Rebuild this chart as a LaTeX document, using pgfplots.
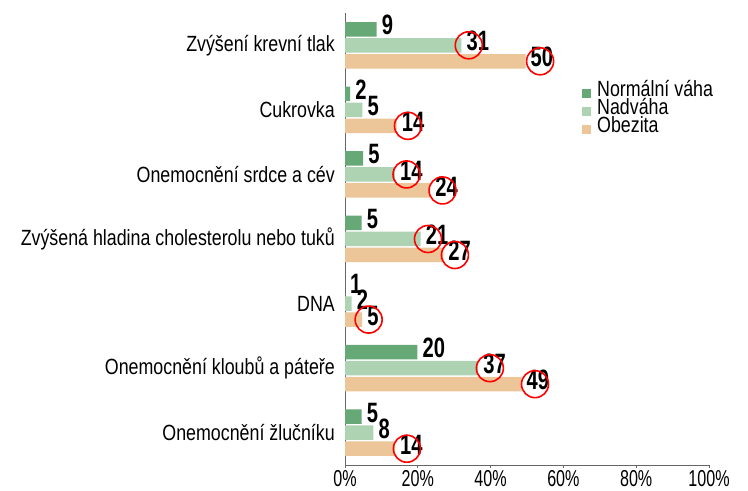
\documentclass[border=0pt]{standalone}
\usepackage{fontspec}
\setmainfont{Liberation Sans}
\newfontfamily\labf{Liberation Sans}[FakeStretch=0.81]
\newfontfamily\tickf{Liberation Sans}[FakeStretch=0.7]
\newfontfamily\numf{Liberation Sans}[FakeStretch=0.72]
\usepackage{pgfplots}
\usepackage{pgfplotstable}
\pgfplotsset{compat=1.18}

\definecolor{normal}{RGB}{102,168,118}
\definecolor{nadvaha}{RGB}{174,211,178}
\definecolor{obezita}{RGB}{236,197,152}

% percentage (bar length) and count (label)
\pgfplotstableread{
y   x     lbl
6   8.7   9
5   1.4   2
4   5.0   5
3   4.6   5
2   0.0   1
1   19.9  20
0   4.6   5
}\normalni
\pgfplotstableread{
y   x     lbl
6   32.0  31
5   4.8   5
4   13.7  14
3   20.8  21
2   1.8   2
1   36.6  37
0   7.8   8
}\nadvaha
\pgfplotstableread{
y   x     lbl
6   49.6  50
5   14.2  14
4   23.4  24
3   27.0  27
2   4.7   5
1   48.5  49
0   13.7  14
}\obezita
% red hand-drawn circles
\pgfplotstableread{
x     y
34.0  6
53.6  5.752
17.3  4.752
16.9  4
26.8  3.752
22.8  3
30.2  2.752
6.5   1.752
39.8  1
52.2  0.752
17.0  -0.248
}\kruhy

\pgfplotsset{
  mybar/.style 2 args={xbar, bar width=14.5bp, draw=none, fill=#1,
    bar shift=#2,
    point meta=explicit symbolic,
    nodes near coords,
    every node near coord/.append style={anchor=west, inner sep=0pt,
      xshift=5bp, yshift=#2+4bp, text=black,
      font=\numf\bfseries\fontsize{28bp}{28bp}\selectfont},
    legend image code/.code={\fill[#1] (0bp,-4.5bp) rectangle (9bp,4.5bp);}},
}

\begin{document}
\begin{tikzpicture}
\path[use as bounding box] (0,0) rectangle (748bp,491bp);
\begin{axis}[
  at={(345bp,26bp)}, anchor=south west,
  scale only axis, width=364bp, height=452bp,
  xmin=0, xmax=100, ymin=-0.5, ymax=6.5,
  clip=false,
  axis x line*=bottom, axis y line*=left,
  axis line style={draw=black!60, line width=0.8bp},
  tick align=outside,
  major tick length=3bp, minor tick length=5bp,
  tick style={draw=black!60, line width=0.8bp},
  xtick={0,20,...,100},
  xticklabels={0\%,20\%,40\%,60\%,80\%,100\%},
  xticklabel style={font=\tickf\fontsize{23bp}{23bp}\selectfont, inner sep=0pt, yshift=-2bp},
  ytick={0,...,6},
  yticklabels={Onemocnění žlučníku, Onemocnění kloubů a páteře, DNA,
    Zvýšená hladina cholesterolu nebo tuků, Onemocnění srdce a cév,
    Cukrovka, Zvýšení krevní tlak},
  ytick style={draw=none},
  minor ytick={-0.5,0.5,...,6.5},
  yticklabel style={font=\labf\fontsize{22bp}{24bp}\selectfont, inner sep=0pt, xshift=-7bp},
  legend style={at={(rel axis cs:0.651,0.843)}, anchor=north west,
    draw=none, fill=none, inner sep=0pt, row sep=0pt,
    font=\labf\fontsize{22bp}{22bp}\selectfont,
    nodes={inner sep=0pt, text height=12bp, text depth=6bp},
    /tikz/every odd column/.style={column sep=6bp}},
  legend cell align=left,
]
\addplot[mybar={normal}{16bp}] table[x=x, y=y, meta=lbl] {\normalni};
\addplot[mybar={nadvaha}{0bp}] table[x=x, y=y, meta=lbl] {\nadvaha};
\addplot[mybar={obezita}{-16bp}] table[x=x, y=y, meta=lbl] {\obezita};
\legend{Normální váha, Nadváha, Obezita}
\addplot[only marks, mark=o, mark size=13.5bp, red,
  mark options={line width=1.6bp, draw=red}] table[x=x, y=y] {\kruhy};
\end{axis}
\end{tikzpicture}
\end{document}
